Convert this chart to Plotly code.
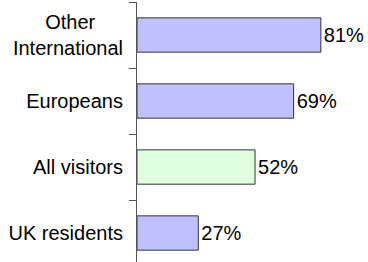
import plotly.graph_objects as go

categories = ["UK residents", "All visitors", "Europeans", "Other International"]
tick_labels = ["UK residents", "All visitors", "Europeans",
               "Other\u00a0\u00a0\u00a0\u00a0\u00a0<br>International"]
values = [27, 52, 69, 81]
bar_colors = ["#C0C0FF", "#E0FFE0", "#C0C0FF", "#C0C0FF"]

font = dict(family="Liberation Sans, Arial, sans-serif", size=20, color="black")

fig = go.Figure(go.Bar(
    x=values,
    y=categories,
    orientation="h",
    width=0.52,
    marker=dict(color=bar_colors, line=dict(color="#333333", width=1)),
    text=[f"{v}%" for v in values],
    textposition="outside",
    textfont=font,
    constraintext="none",
    cliponaxis=False,
))

fig.update_layout(
    width=368, height=262,
    margin=dict(l=137, r=4, t=2, b=0, autoexpand=False),
    paper_bgcolor="white", plot_bgcolor="white",
    showlegend=False,
    font=font,
    bargap=0.48,
)
fig.update_xaxes(range=[0, 100], visible=False, automargin=False)
fig.update_yaxes(
    type="category",
    automargin=False,
    range=[-0.439, 3.5],
    tickmode="array", tickvals=categories, ticktext=tick_labels,
    showline=True, linecolor="#555555", linewidth=1,
    ticks="outside", tickson="boundaries", ticklen=7, tickcolor="#555555",
    ticklabelstandoff=9,
    showgrid=False, zeroline=False,
    tickfont=font,
)

fig.write_html(
    "out.html",
    config={"displayModeBar": False, "staticPlot": True},
    post_script="document.body.style.margin='0';document.body.style.overflow='hidden';",
)
